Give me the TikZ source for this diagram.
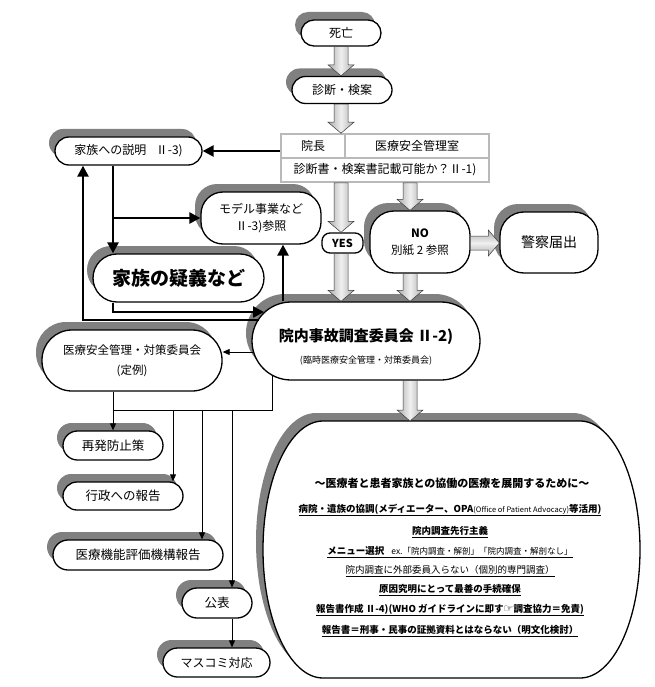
\documentclass[tikz,border=0pt]{standalone}
\usepackage{fontspec}
\setmainfont{Noto Sans CJK JP}
\newfontfamily\dejavu{DejaVu Sans}
\usetikzlibrary{calc,shadows,arrows.meta}
\definecolor{shg}{gray}{0.5}
\newcommand{\myfs}[2]{\fontsize{#1}{#2}\selectfont}
\newcommand{\fatdown}[3]{%
  \path[fat] let \p1=(#1,0 |- #2), \p2=(#1,0 |- #3) in
    (\x1-7pt,\y1) -- (\x1+7pt,\y1) -- (\x1+7pt,\y2+11pt) -- (\x1+13pt,\y2+11pt)
    -- (\x1,\y2) -- (\x1-13pt,\y2+11pt) -- (\x1-7pt,\y2+11pt) -- cycle;}
\newcommand{\fatright}[3]{%
  \path[fath] let \p1=(#2 |- 0,#1), \p2=(#3 |- 0,#1) in
    (\x1,\y1+7pt) -- (\x2-11pt,\y1+7pt) -- (\x2-11pt,\y1+13pt) -- (\x2,\y1)
    -- (\x2-11pt,\y1-13pt) -- (\x2-11pt,\y1-7pt) -- (\x1,\y1-7pt) -- cycle;}
\tikzset{
  rb/.style={draw=black, line width=1.3pt, fill=white, rounded corners=#1, inner sep=0pt,
    align=center, font=\myfs{12}{15},
    general shadow={fill=shg, shadow xshift=-6pt, shadow yshift=8pt}},
  rbn/.style={draw=black, line width=1.3pt, fill=white, rounded corners=#1, inner sep=0pt, align=center},
  cell/.style={draw=gray!55, line width=1.6pt, fill=white, inner sep=0pt, font=\myfs{12}{15}},
  fat/.style={draw=gray!45!black, line width=0.5pt, left color=gray!65, right color=gray!65, middle color=gray!12},
  fath/.style={draw=gray!45!black, line width=0.5pt, top color=gray!65, bottom color=gray!65, middle color=gray!12},
  thk/.style={line width=2.4pt, -{Triangle[length=11pt,width=11pt]}},
  thn/.style={line width=0.8pt, -{Triangle[length=7pt,width=6pt]}},
  thnline/.style={line width=0.8pt},
  item/.style={inner sep=0pt, font=\myfs{9.5}{11}},
}
\begin{document}
\begin{tikzpicture}[x=1pt,y=-1pt]
\useasboundingbox (0,0) rectangle (654,687);
% big shape
\fill[shg, shift={(-7,-8)}] (323,421) -- (580,421) arc[start angle=90,end angle=-90,x radius=60pt,y radius=128.5pt]
  -- (323,678) arc[start angle=270,end angle=90,x radius=60pt,y radius=128.5pt] -- cycle;
\draw[line width=1.3pt, fill=white] (323,421) -- (580,421) arc[start angle=90,end angle=-90,x radius=60pt,y radius=128.5pt]
  -- (323,678) arc[start angle=270,end angle=90,x radius=60pt,y radius=128.5pt] -- cycle;
\coordinate (bigtop) at (410,421);
\node[inner sep=0pt, font=\bfseries\myfs{11}{13}] (t0) at (452,483) {～医療者と患者家族との協働の医療を展開するために～};
\node[item] (t1) at (450,510) {\underline{\textbf{病院・遺族の協調(メディエーター、OPA}{\myfs{7.5}{9}(Office of Patient Advocacy)}\textbf{等活用)}}};
\node[item] (t2) at (450,532) {\underline{\textbf{院内調査先行主義}}};
\node[item] (t3) at (450,552) {\underline{\textbf{メニュー選択}\hspace{7pt}{\myfs{8.5}{10}ex.「院内調査・解剖」「院内調査・解剖なし」}}};
\node[item] (t4) at (450,571) {\underline{院内調査に外部委員入らない（個別的専門調査）}};
\node[item] (t5) at (450,590) {\underline{\textbf{原因究明にとって最善の手続確保}}};
\node[item] (t6) at (450,610) {\underline{\textbf{報告書作成 Ⅱ-4)(WHO ガイドラインに即す{\dejavu\mdseries\myfs{11}{11}☞}調査協力＝免責)}}};
\node[item] (t7) at (450,631) {\underline{\textbf{報告書＝刑事・民事の証拠資料とはならない（明文化検討）}}};

% nodes
\node[rb=13pt, minimum width=80pt, minimum height=26pt] (shibo) at (341,33) {死亡};
\node[rb=13.5pt, minimum width=100pt, minimum height=27pt] (shindan) at (342,90) {診断・検案};
\node[cell, minimum width=64pt, minimum height=24pt] (inchou) at (313,146) {院長};
\node[cell, minimum width=144pt, minimum height=24pt] (kanri) at (417,146) {医療安全管理室};
\node[cell, minimum width=208pt, minimum height=24pt] (kisai) at (385,170) {診断書・検案書記載可能か？Ⅱ-1)};
\node[rb=14pt, minimum width=147pt, minimum height=28pt] (setsumei) at (128.5,151) {家族への説明\hspace{0.8em}Ⅱ-3)};
\node[rb=22pt, minimum width=120pt, minimum height=52pt, font=\myfs{12}{17}] (model) at (261,218) {モデル事業など\\Ⅱ-3)参照};
\node[rb=24pt, minimum width=100pt, minimum height=62pt, font=\myfs{11.5}{17}] (no) at (420,242) {\textbf{NO}\\別紙 2 参照};
\node[rb=24pt, minimum width=98pt, minimum height=61pt, font=\myfs{14}{17}] (kei) at (549,242.5) {警察届出};
\node[rb=24pt, minimum width=171pt, minimum height=48pt, font=\bfseries\myfs{19}{22}] (gigi) at (178.5,278) {家族の疑義など};
\node[rb=39pt, minimum width=228pt, minimum height=78pt] (iinkai) at (366,341) {};
\node[inner sep=0pt, align=center, font=\myfs{15}{18}] (iinkaiT) at (366,347)
  {{\bfseries 院内事故調査委員会 Ⅱ-2)}\\[4pt]{\myfs{9}{10}(臨時医療安全管理・対策委員会)}};
\node[rb=30pt, minimum width=180pt, minimum height=61pt, font=\myfs{11.5}{14}] (anzen) at (132,360.5) {医療安全管理・対策委員会\\[6pt](定例)};
\node[rb=14.5pt, minimum width=100pt, minimum height=29pt, font=\myfs{12.5}{15}] (saihatsu) at (113,445.5) {再発防止策};
\node[rb=14pt, minimum width=120pt, minimum height=28pt, font=\myfs{12.5}{15}] (gyosei) at (123,496) {行政への報告};
\node[rb=15pt, minimum width=170pt, minimum height=30pt, font=\myfs{12.5}{15}] (kino) at (138,555) {医療機能評価機構報告};
\node[rb=15pt, minimum width=70pt, minimum height=30pt, font=\myfs{12.5}{15}] (kohyo) at (217,603) {公表};
\node[rb=14.5pt, minimum width=107pt, minimum height=29pt, font=\myfs{12}{15}] (masukomi) at (216.5,662.5) {マスコミ対応};
\node[rbn=8pt, minimum width=41pt, minimum height=20pt, font=\bfseries\myfs{11}{13}] (yes) at (342.5,243) {YES};

% fat gray arrows
\fatdown{341}{shibo.south}{shindan.north}
\fatdown{341}{shindan.south}{inchou.north}
\fatdown{341}{kisai.south}{yes.north}
\fatdown{410}{kisai.south}{no.north}
\fatdown{341}{yes.south}{iinkai.north}
\fatdown{410}{no.south}{iinkai.north}
\fatdown{410}{iinkai.south}{bigtop}
\fatright{243}{no.east}{kei.west}

% thick black connectors
\coordinate (g2i) at (264,312);
\coordinate (i2s) at (259,320);
\draw[thk] (inchou.west |- setsumei.east) -- (setsumei.east);
\draw[thk] (113,0 |- setsumei.south) -- (113,0 |- gigi.north);
\draw[thk] (113,0 |- model.west) -- (model.west);
\draw[thk] (283,0 |- iinkai.north) -- (283,0 |- model.south);
\draw[thk] (113,0 |- gigi.south) |- (g2i);
\draw[thk] (i2s) -| (83,0 |- setsumei.south);

% thin connectors
\coordinate (i2a) at (254,352);
\coordinate (i2t) at (272,375);
\coordinate (tj) at (113,410);
\draw[thn] (i2a) -- (anzen.east |- i2a);
\draw[thnline] (i2t) |- (tj);
\draw[thn] (113,0 |- anzen.south) -- (113,0 |- saihatsu.north);
\draw[thn] (173,0 |- tj) -- (173,0 |- gyosei.north);
\draw[thn] (202,0 |- tj) -- (202,0 |- kino.north);
\draw[thn] (232,0 |- tj) -- (232,0 |- kohyo.north);
\draw[thn] (232,0 |- kohyo.south) -- (232,0 |- masukomi.north);
\end{tikzpicture}
\end{document}
